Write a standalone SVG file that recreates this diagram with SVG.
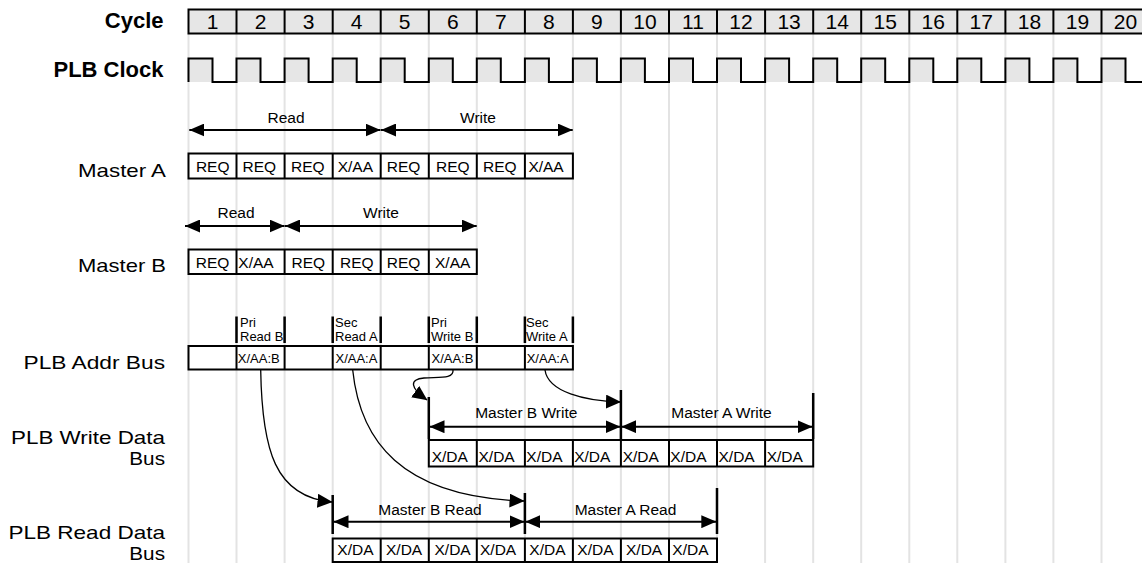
<svg xmlns="http://www.w3.org/2000/svg" width="1142" height="563" viewBox="0 0 1142 563">
<style>
.t{font-family:"Liberation Sans",Arial,Helvetica,sans-serif;fill:#000}
.hdr{font-size:22px;font-weight:bold;text-anchor:end}
.lbl{font-size:18.5px;text-anchor:end}
.num{font-size:21px;text-anchor:middle}
.cell{font-size:15.5px}
.mid{font-size:15.5px;text-anchor:middle}
.sm{font-size:13px}
.grid{stroke:#e3e3e3;stroke-width:2}
.box{fill:#fff;stroke:#000;stroke-width:2}
.gbox{fill:#e6e6e6;stroke:#000;stroke-width:2}
.div{stroke:#000;stroke-width:2}
.clk{fill:none;stroke:#000;stroke-width:2}
.pulse{fill:#e6e6e6}
.arr{stroke:#000;stroke-width:2;fill:none;marker-start:url(#ah);marker-end:url(#ah)}
.bar{stroke:#000;stroke-width:2.5}
.conn{stroke:#000;stroke-width:1.3;fill:none;marker-end:url(#ah2)}
</style>
<defs>
<marker id="ah" markerUnits="userSpaceOnUse" markerWidth="15" markerHeight="13" refX="15" refY="6.5" orient="auto-start-reverse"><path d="M0,0 L15,6.5 L0,13 z" fill="#000"/></marker>
<marker id="ah2" markerUnits="userSpaceOnUse" markerWidth="15" markerHeight="14" refX="14.5" refY="7" orient="auto"><path d="M0,0 L15,7 L0,14 z" fill="#000"/></marker>
</defs>
<rect width="1142" height="563" fill="#fff"/>
<g id="grid">
<path class="grid" d="M188.5,33V563M236.5,33V563M284.6,33V563M332.7,33V563M380.7,33V563M428.8,33V563M476.8,33V563M524.9,33V563M572.9,33V563M620.9,33V563M669,33V563M717,33V563M765.1,33V563M813.2,33V563M861.2,33V563M909.3,33V563M957.3,33V563M1005.4,33V563M1053.4,33V563M1101.5,33V563"/>
</g>
<g id="cycle">
<text class="t hdr" x="163.5" y="28">Cycle</text>
<rect class="gbox" x="188.5" y="9.5" width="961" height="24"/>
<path class="div" d="M236.5,9.5V33.5M284.6,9.5V33.5M332.7,9.5V33.5M380.7,9.5V33.5M428.8,9.5V33.5M476.8,9.5V33.5M524.9,9.5V33.5M572.9,9.5V33.5M620.9,9.5V33.5M669,9.5V33.5M717,9.5V33.5M765.1,9.5V33.5M813.2,9.5V33.5M861.2,9.5V33.5M909.3,9.5V33.5M957.3,9.5V33.5M1005.4,9.5V33.5M1053.4,9.5V33.5M1101.5,9.5V33.5"/>
<g class="t num">
<text x="212.5" y="29">1</text><text x="260.5" y="29">2</text><text x="308.6" y="29">3</text><text x="356.7" y="29">4</text><text x="404.7" y="29">5</text><text x="452.8" y="29">6</text><text x="500.8" y="29">7</text><text x="548.9" y="29">8</text><text x="596.9" y="29">9</text><text x="644.9" y="29">10</text><text x="693" y="29">11</text><text x="741" y="29">12</text><text x="789.1" y="29">13</text><text x="837.2" y="29">14</text><text x="885.2" y="29">15</text><text x="933.3" y="29">16</text><text x="981.3" y="29">17</text><text x="1029.4" y="29">18</text><text x="1077.4" y="29">19</text><text x="1125.5" y="29">20</text>
</g>
</g>
<g id="clock">
<text class="t hdr" x="163.5" y="77">PLB Clock</text>
<g class="pulse">
<rect x="188.5" y="58.5" width="24" height="23.5"/><rect x="236.5" y="58.5" width="24" height="23.5"/><rect x="284.6" y="58.5" width="24" height="23.5"/><rect x="332.7" y="58.5" width="24" height="23.5"/><rect x="380.7" y="58.5" width="24" height="23.5"/><rect x="428.8" y="58.5" width="24" height="23.5"/><rect x="476.8" y="58.5" width="24" height="23.5"/><rect x="524.9" y="58.5" width="24" height="23.5"/><rect x="572.9" y="58.5" width="24" height="23.5"/><rect x="620.9" y="58.5" width="24" height="23.5"/><rect x="669" y="58.5" width="24" height="23.5"/><rect x="717" y="58.5" width="24" height="23.5"/><rect x="765.1" y="58.5" width="24" height="23.5"/><rect x="813.2" y="58.5" width="24" height="23.5"/><rect x="861.2" y="58.5" width="24" height="23.5"/><rect x="909.3" y="58.5" width="24" height="23.5"/><rect x="957.3" y="58.5" width="24" height="23.5"/><rect x="1005.4" y="58.5" width="24" height="23.5"/><rect x="1053.4" y="58.5" width="24" height="23.5"/><rect x="1101.5" y="58.5" width="24" height="23.5"/>
</g>
<path class="clk" d="M188.5,82V58.5H212.5V82H236.5V58.5H260.5V82H284.6V58.5H308.6V82H332.7V58.5H356.7V82H380.7V58.5H404.7V82H428.8V58.5H452.8V82H476.8V58.5H500.8V82H524.9V58.5H548.9V82H572.9V58.5H596.9V82H620.9V58.5H644.9V82H669V58.5H693V82H717V58.5H741V82H765.1V58.5H789.1V82H813.2V58.5H837.2V82H861.2V58.5H885.2V82H909.3V58.5H933.3V82H957.3V58.5H981.3V82H1005.4V58.5H1029.4V82H1053.4V58.5H1077.4V82H1101.5V58.5H1125.5V82H1142"/>
</g>
<g id="masterA">
<text class="t lbl" x="166" y="176.5" textLength="88" lengthAdjust="spacingAndGlyphs">Master A</text>
<text class="t mid" x="286" y="122.5">Read</text>
<text class="t mid" x="478" y="122.5">Write</text>
<rect class="box" x="188.5" y="153.5" width="384.4" height="25"/>
<path class="div" d="M236.5,153.5V178.5M284.6,153.5V178.5M332.7,153.5V178.5M380.7,153.5V178.5M428.8,153.5V178.5M476.8,153.5V178.5M524.9,153.5V178.5"/>
<g class="t cell">
<text x="195.9" y="171.5">REQ</text><text x="242.5" y="171.5">REQ</text><text x="291" y="171.5">REQ</text><text x="337.7" y="171.5">X/AA</text><text x="386.7" y="171.5">REQ</text><text x="436" y="171.5">REQ</text><text x="483" y="171.5">REQ</text><text x="528.4" y="171.5">X/AA</text>
</g>
</g>
<g id="masterB">
<text class="t lbl" x="166" y="272" textLength="88" lengthAdjust="spacingAndGlyphs">Master B</text>
<text class="t mid" x="236" y="218.3">Read</text>
<text class="t mid" x="381" y="218.3">Write</text>
<rect class="box" x="188.5" y="249.5" width="288.3" height="24.5"/>
<path class="div" d="M236.5,249.5V274M284.6,249.5V274M332.7,249.5V274M380.7,249.5V274M428.8,249.5V274"/>
<g class="t cell">
<text x="195.7" y="267.5">REQ</text><text x="238.3" y="267.5">X/AA</text><text x="291.5" y="267.5">REQ</text><text x="340" y="267.5">REQ</text><text x="386.7" y="267.5">REQ</text><text x="435" y="267.5">X/AA</text>
</g>
</g>
<g id="addrBus">
<text class="t lbl" x="165" y="368.5" textLength="141.5" lengthAdjust="spacingAndGlyphs">PLB Addr Bus</text>
<path class="bar" d="M236.5,316.5V343M284.6,316.5V343M332.7,316.5V343M380.7,316.5V343M428.8,316.5V343M476.8,316.5V343M524.9,316.5V343M572.9,316.5V343"/>
<g class="t sm">
<text x="240" y="326.5">Pri<tspan x="240" y="340.5">Read B</tspan></text>
<text x="335" y="327">Sec<tspan x="335" y="341">Read A</tspan></text>
<text x="431" y="326.5">Pri<tspan x="431" y="340.5">Write B</tspan></text>
<text x="526" y="327">Sec<tspan x="526" y="341">Write A</tspan></text>
</g>
<rect class="box" x="188.5" y="346" width="384.4" height="23.5"/>
<path class="div" d="M236.5,346V369.5M284.6,346V369.5M332.7,346V369.5M380.7,346V369.5M428.8,346V369.5M476.8,346V369.5M524.9,346V369.5"/>
<g class="t sm">
<text x="237.8" y="363.3">X/AA:B</text><text x="335.5" y="363.3">X/AA:A</text><text x="431.5" y="363.3">X/AA:B</text><text x="526.7" y="363.3">X/AA:A</text>
</g>
</g>
<g id="writeBus">
<text class="t lbl" x="165" y="443.5" textLength="154" lengthAdjust="spacingAndGlyphs">PLB Write Data</text>
<text class="t lbl" x="165" y="465" textLength="35.7" lengthAdjust="spacingAndGlyphs">Bus</text>
<path class="bar" d="M428.8,397V439M620.9,390V439M813.2,393V439"/>
<text class="t mid" x="526.3" y="418.3">Master B Write</text>
<text class="t mid" x="721.5" y="418.3">Master A Write</text>
<rect class="box" x="428.8" y="440" width="384.4" height="26.5"/>
<path class="div" d="M476.8,440V466.5M524.9,440V466.5M572.9,440V466.5M620.9,440V466.5M669,440V466.5M717,440V466.5M765.1,440V466.5"/>
<g class="t cell">
<text x="431.7" y="461.5">X/DA</text><text x="478.5" y="461.5">X/DA</text><text x="526.3" y="461.5">X/DA</text><text x="574.2" y="461.5">X/DA</text><text x="622.7" y="461.5">X/DA</text><text x="670.3" y="461.5">X/DA</text><text x="718.5" y="461.5">X/DA</text><text x="766.7" y="461.5">X/DA</text>
</g>
</g>
<g id="readBus">
<text class="t lbl" x="165" y="538.5" textLength="156.5" lengthAdjust="spacingAndGlyphs">PLB Read Data</text>
<text class="t lbl" x="165" y="559.5" textLength="35.7" lengthAdjust="spacingAndGlyphs">Bus</text>
<path class="bar" d="M332.7,495V534M524.9,493V534M717,488V534"/>
<text class="t mid" x="430" y="515">Master B Read</text>
<text class="t mid" x="625.5" y="515">Master A Read</text>
<rect class="box" x="332.7" y="538.5" width="384.3" height="23.5"/>
<path class="div" d="M380.7,538.5V562M428.8,538.5V562M476.8,538.5V562M524.9,538.5V562M572.9,538.5V562M620.9,538.5V562M669,538.5V562"/>
<g class="t cell">
<text x="337.3" y="555.3">X/DA</text><text x="386" y="555.3">X/DA</text><text x="434.5" y="555.3">X/DA</text><text x="480" y="555.3">X/DA</text><text x="529.3" y="555.3">X/DA</text><text x="577.3" y="555.3">X/DA</text><text x="626" y="555.3">X/DA</text><text x="672.3" y="555.3">X/DA</text>
</g>
</g>
<g id="connectors">
<path class="arr" d="M189.3,130H380.5"/>
<path class="arr" d="M381,130H572.7"/>
<path class="arr" d="M185,226H284.6"/>
<path class="arr" d="M285,226H476.7"/>
<path class="arr" d="M429.5,426.7H620.5"/>
<path class="arr" d="M621.3,426.7H812.5"/>
<path class="arr" d="M333.5,521.7H524.5"/>
<path class="arr" d="M525.3,521.7H716.3"/>
<path class="conn" d="M260.7,370C262,450 275,497 332,502"/>
<path class="conn" d="M352.7,370C360,440 400,497 524,501"/>
<path class="conn" d="M453,370C454,379 440,377 424,378C409,379 410,388 427,400"/>
<path class="conn" d="M545,370C548,392 585,401 620.5,402"/>
</g>
</svg>
